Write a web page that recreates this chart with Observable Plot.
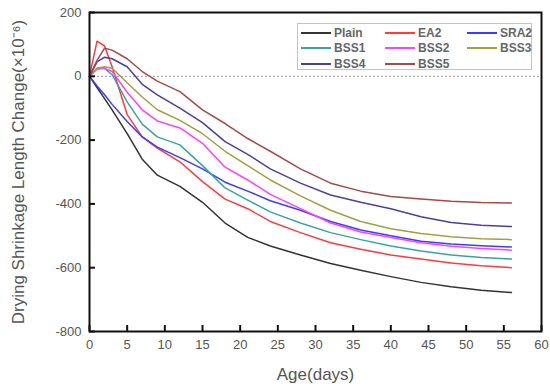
<!DOCTYPE html>
<html>
<head>
<meta charset="utf-8">
<script src="https://cdn.jsdelivr.net/npm/d3@7"></script>
<script src="https://cdn.jsdelivr.net/npm/@observablehq/plot@0.6"></script>
<style>
  html, body { margin: 0; padding: 0; background: #fff; }
  #wrap { position: relative; width: 550px; height: 384px; font-family: "Liberation Sans", Arial, sans-serif; }
  #legend {
    position: absolute; left: 297px; top: 23px; width: 235px; height: 47px;
    border: 1px solid #c4c4c4; background: #fff; box-sizing: border-box;
    display: grid; grid-template-columns: 84px 82px 68px; grid-auto-rows: 15.5px;
    padding: 1px 0 0 3px;
  }
  .item { display: flex; align-items: center; font-size: 12px; font-weight: bold; color: #666; }
  .sw { width: 30px; height: 0; border-top: 2px solid; margin-right: 3px; }
</style>
</head>
<body>
<div id="wrap"></div>
<script>
// Curing age (days) at which length change was recorded
const days = [0, 1, 2, 3, 5, 7, 9, 12, 15, 18, 21, 24, 28, 32, 36, 40, 44, 48, 52, 56];

// Drying shrinkage length change (×10⁻⁶) for each mix
const plain = [0, -35, -70, -105, -180, -260, -310, -345, -395, -460, -505, -532, -560, -587, -608, -628, -646, -660, -671, -678];
const ea2   = [0, 110, 95, 30, -120, -190, -225, -268, -330, -385, -415, -455, -490, -522, -542, -560, -573, -585, -594, -600];
const sra2  = [0, -30, -58, -88, -142, -190, -222, -255, -290, -332, -360, -390, -420, -455, -482, -500, -517, -526, -531, -535];
const bss1  = [0, 25, 25, 5, -80, -150, -190, -215, -280, -350, -388, -425, -460, -490, -512, -532, -548, -560, -568, -573];
const bss2  = [0, 22, 25, 15, -50, -105, -140, -162, -210, -285, -325, -370, -415, -460, -488, -505, -522, -533, -540, -545];
const bss3  = [0, 25, 30, 25, -20, -65, -105, -138, -180, -235, -280, -325, -375, -420, -455, -478, -493, -503, -509, -512];
const bss4  = [0, 45, 60, 55, 30, -25, -58, -100, -145, -205, -245, -290, -335, -372, -395, -415, -440, -458, -467, -471];
const bss5  = [0, 50, 88, 82, 55, 15, -15, -48, -105, -148, -195, -235, -290, -335, -360, -377, -385, -392, -396, -397];

const seriesNames = ["Plain", "EA2", "SRA2", "BSS1", "BSS2", "BSS3", "BSS4", "BSS5"];
const seriesValues = [plain, ea2, sra2, bss1, bss2, bss3, bss4, bss5];
const seriesColors = ["#333333", "#ff3b3b", "#3b3bff", "#3aa3a0", "#ff40ff", "#a0a040", "#4a3fa0", "#a84848"];

const xTicks = [0, 5, 10, 15, 20, 25, 30, 35, 40, 45, 50, 55, 60];
const yTicks = [-800, -600, -400, -200, 0, 200];

const rows = seriesNames.flatMap((name, i) =>
  days.map((d, j) => ({series: name, day: d, value: seriesValues[i][j]}))
);

const W = 550, H = 384;
const mL = 89, mR = 9, mT = 12, mB = 53;
const innerW = W - mL - mR, innerH = H - mT - mB;

const chart = Plot.plot({
  width: W,
  height: H,
  marginLeft: mL,
  marginRight: mR,
  marginTop: mT,
  marginBottom: mB,
  style: {fontFamily: "'Liberation Sans', Arial, sans-serif", background: "#fff"},
  x: {domain: [0, 60]},
  y: {domain: [-800, 200]},
  color: {domain: seriesNames, range: seriesColors},
  marks: [
    Plot.ruleY([0], {stroke: "#999", strokeWidth: 1, strokeDasharray: "2,2"}),
    Plot.line(rows, {x: "day", y: "value", z: "series", stroke: "series", strokeWidth: 1.5}),
    // inward-pointing ticks on the bottom and left edges
    Plot.tickX(xTicks, {x: d => d, stroke: "#111", strokeWidth: 2, insetTop: innerH - 6}),
    Plot.tickY(yTicks, {y: d => d, stroke: "#111", strokeWidth: 2, insetRight: innerW - 6}),
    Plot.axisX({ticks: xTicks, tickSize: 0, tickPadding: 8, tickFormat: d => String(d), fontSize: 13, fill: "#555", label: null}),
    Plot.axisY({ticks: yTicks, tickSize: 0, tickPadding: 8, tickFormat: d => String(d), fontSize: 13, fill: "#555", label: null}),
    Plot.frame({stroke: "#111", strokeWidth: 2}),
    Plot.text(["Age(days)"], {frameAnchor: "bottom", dy: 48, fontSize: 17, fill: "#555"}),
    Plot.text(["Drying Shrinkage Length Change(×10⁻⁶)"], {frameAnchor: "left", textAnchor: "middle", dx: -71, rotate: -90, fontSize: 17, fill: "#555"})
  ]
});

const wrap = document.getElementById("wrap");
wrap.appendChild(chart);

// legend box in the upper right of the plot area
const legend = document.createElement("div");
legend.id = "legend";
seriesNames.forEach((name, i) => {
  const item = document.createElement("div");
  item.className = "item";
  const sw = document.createElement("span");
  sw.className = "sw";
  sw.style.borderTopColor = seriesColors[i];
  item.appendChild(sw);
  item.appendChild(document.createTextNode(name));
  legend.appendChild(item);
});
wrap.appendChild(legend);
</script>
</body>
</html>
